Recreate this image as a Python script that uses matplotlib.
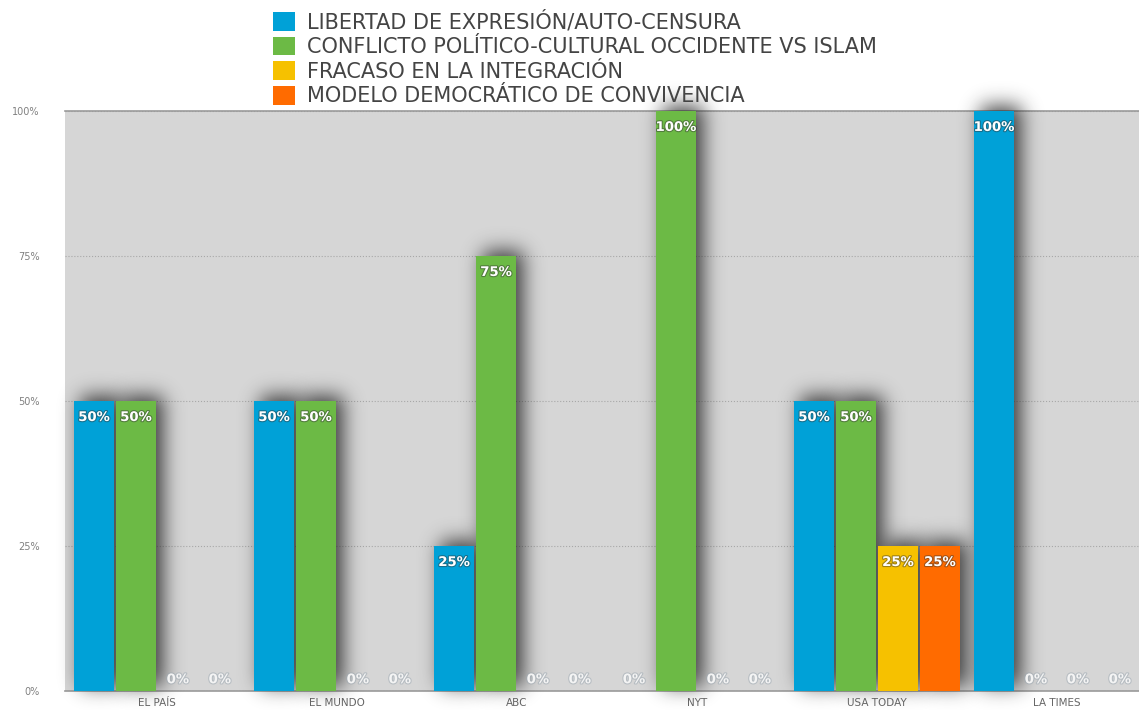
import matplotlib.pyplot as plt
import matplotlib.patheffects as pe
from matplotlib.patches import Patch
import numpy as np

plt.rcParams['font.family'] = ['DejaVu Sans']

# Data
diarios = ['EL PAÍS', 'EL MUNDO', 'ABC', 'NYT', 'USA TODAY', 'LA TIMES']
series = ['LIBERTAD DE EXPRESIÓN/AUTO-CENSURA',
          'CONFLICTO POLÍTICO-CULTURAL OCCIDENTE VS ISLAM',
          'FRACASO EN LA INTEGRACIÓN',
          'MODELO DEMOCRÁTICO DE CONVIVENCIA']
libertad = [50, 50, 25, 0, 50, 100]
conflicto = [50, 50, 75, 100, 50, 0]
fracaso = [0, 0, 0, 0, 25, 0]
modelo = [0, 0, 0, 0, 25, 0]
colors = ['#00a1d7', '#6cba45', '#f6c100', '#ff6b00']

values = [libertad, conflicto, fracaso, modelo]


def blur(a, sigma):
    r = int(3 * sigma)
    k = np.exp(-0.5 * (np.arange(-r, r + 1) / sigma) ** 2)
    k /= k.sum()
    a = np.apply_along_axis(lambda m: np.convolve(m, k, mode='same'), 0, a)
    a = np.apply_along_axis(lambda m: np.convolve(m, k, mode='same'), 1, a)
    return a


def drop_shadow(im, dpi, sigma=10, dx=7, dy=5, alpha=0.85):
    # blurred dark copy, shifted right and up
    pad = int(3 * sigma) + max(dx, dy) + 2
    src = np.pad(im, [(pad, pad), (pad, pad), (0, 0)], 'constant')
    a = blur(src[:, :, 3], sigma)
    a = np.roll(np.roll(a, dx, axis=1), -dy, axis=0)
    out = np.zeros_like(src)
    out[:, :, :3] = 0.12
    out[:, :, 3] = np.clip(a * alpha, 0, 1)
    return out, -pad, -pad


fig = plt.figure(figsize=(11.39, 7.10), dpi=100)
ax = fig.add_axes([0.057, 0.027, 0.943, 0.817])
ax.set_facecolor('#d6d6d6')

x = np.arange(len(diarios))
step = 0.233
width = 0.222
for i, (vals, col) in enumerate(zip(values, colors)):
    pos = x + (i - 1.5) * step
    shad = ax.bar(pos, vals, width, color='black', linewidth=0, zorder=2)
    for b, v in zip(shad, vals):
        if v > 0:
            b.set_agg_filter(drop_shadow)
            b.set_clip_on(False)
        else:
            b.set_visible(False)
    bars = ax.bar(pos, vals, width, color=col, linewidth=0, zorder=3)
    for b, v in zip(bars, vals):
        cx = b.get_x() + b.get_width() / 2
        if v > 0:
            ax.annotate(f'{v}%', (cx, v), xytext=(0, -12), textcoords='offset points',
                        ha='center', va='center', color='white', fontsize=9.5,
                        fontweight='bold', zorder=5,
                        path_effects=[pe.withStroke(linewidth=1.6, foreground='#333333', alpha=0.45)])
        else:
            ax.annotate('0%', (cx, 0), xytext=(0, 8), textcoords='offset points',
                        ha='center', va='center', color='#f4f4f4', fontsize=9.5,
                        fontweight='bold', zorder=5,
                        path_effects=[pe.withStroke(linewidth=1.6, foreground='#9aa6b0', alpha=0.5)])

ax.set_xlim(-0.511, 5.456)
ax.set_ylim(0, 100)
ax.set_yticks([0, 25, 50, 75, 100])
ax.set_yticklabels(['0%', '25%', '50%', '75%', '100%'])
ax.set_xticks(x)
ax.set_xticklabels(diarios)
ax.tick_params(axis='y', length=0, pad=18, labelsize=7, labelcolor='#808080')
ax.tick_params(axis='x', length=0, pad=5, labelsize=7.5, labelcolor='#666666')
ax.grid(axis='y', linestyle=':', color='#a8a8a8', linewidth=0.8, zorder=1)
ax.set_axisbelow(True)
for s in ['left', 'right']:
    ax.spines[s].set_visible(False)
for s in ['top', 'bottom']:
    ax.spines[s].set_color('#9a9a9a')
    ax.spines[s].set_linewidth(1.2)
    ax.spines[s].set_zorder(1.5)

handles = [Patch(facecolor=c, edgecolor='none') for c in colors]
fig.legend(handles, series, loc='upper left', bbox_to_anchor=(273 / 1139, 1 - 11 / 710),
           frameon=False, fontsize=15, handlelength=1.05, handleheight=1.0,
           handletextpad=0.6, labelspacing=0.2, borderaxespad=0, borderpad=0,
           labelcolor='#444444')

plt.savefig('out.png', dpi=100)
